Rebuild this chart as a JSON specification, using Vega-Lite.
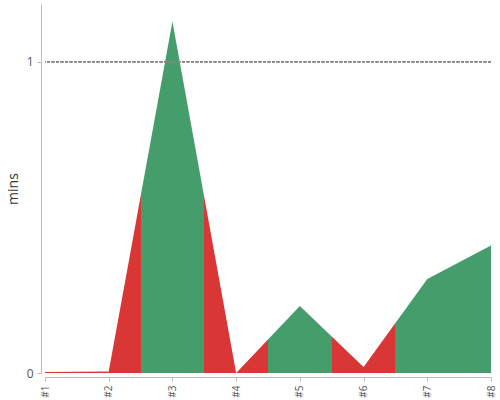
{
  "$schema": "https://vega.github.io/schema/vega-lite/v6.json",
  "width": 446,
  "height": 369,
  "autosize": {"type": "none"},
  "padding": {"left": 45, "top": 4, "right": 9, "bottom": 27},
  "background": "white",
  "config": {
    "view": {"stroke": null},
    "font": "Open Sans",
    "axis": {
      "domainColor": "#bbbbbb",
      "tickColor": "#bbbbbb",
      "labelColor": "#555555",
      "titleColor": "#333333",
      "grid": false,
      "offset": 4,
      "tickSize": 4
    }
  },
  "data": {
    "values": [
      {"run": "#1", "mins": 0.003},
      {"run": "#2", "mins": 0.005},
      {"run": "#3", "mins": 1.13},
      {"run": "#4", "mins": 0.0},
      {"run": "#5", "mins": 0.215},
      {"run": "#6", "mins": 0.019},
      {"run": "#7", "mins": 0.302},
      {"run": "#8", "mins": 0.41}
    ]
  },
  "layer": [
    {
      "mark": {
        "type": "area",
        "color": {
          "gradient": "linear",
          "x1": 0, "x2": 1, "y1": 0, "y2": 0,
          "stops": [
            {"offset": 0, "color": "#d93636"},
            {"offset": 0.21429, "color": "#d93636"},
            {"offset": 0.21429, "color": "#449d6b"},
            {"offset": 0.35714, "color": "#449d6b"},
            {"offset": 0.35714, "color": "#d93636"},
            {"offset": 0.5, "color": "#d93636"},
            {"offset": 0.5, "color": "#449d6b"},
            {"offset": 0.64286, "color": "#449d6b"},
            {"offset": 0.64286, "color": "#d93636"},
            {"offset": 0.78571, "color": "#d93636"},
            {"offset": 0.78571, "color": "#449d6b"},
            {"offset": 1, "color": "#449d6b"}
          ]
        }
      },
      "encoding": {
        "x": {
          "field": "run",
          "type": "ordinal",
          "scale": {"type": "point", "padding": 0},
          "axis": {"title": null, "labelAngle": -90, "labelFontSize": 10, "labelPadding": 4, "labelColor": "#555555"}
        },
        "y": {
          "field": "mins",
          "type": "quantitative",
          "title": "mins",
          "scale": {"domain": [0, 1.186], "nice": false, "zero": true},
          "axis": {"title": "mins", "values": [0, 1], "format": "d", "labelFontSize": 12, "labelColor": "#555555", "titleColor": "#333333", "titleFontSize": 14, "titleFontWeight": "normal", "titlePadding": 6, "labelPadding": 4}
        }
      }
    },
    {
      "mark": {"type": "rule", "color": "#888888", "strokeDash": [3, 1.5], "strokeWidth": 0.7},
      "encoding": {
        "y": {
          "datum": 1,
          "type": "quantitative",
          "title": "mins",
          "axis": {"title": "mins", "values": [0, 1], "format": "d", "labelFontSize": 12, "labelColor": "#555555", "titleColor": "#333333", "titleFontSize": 14, "titleFontWeight": "normal", "titlePadding": 6, "labelPadding": 4}
        }
      }
    }
  ]
}
